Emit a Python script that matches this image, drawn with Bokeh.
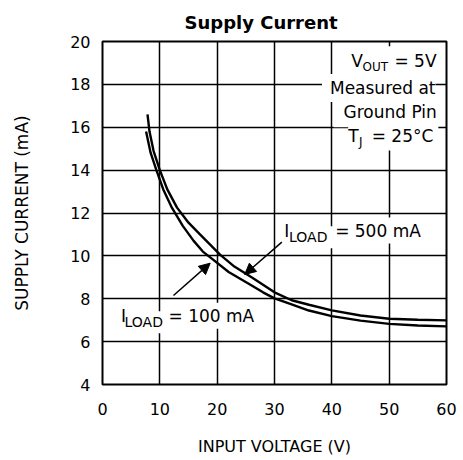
from bokeh.plotting import figure
from bokeh.models import Range1d, FixedTicker, Arrow, NormalHead
from bokeh.core.properties import value
from bokeh.embed import file_html
from bokeh.resources import INLINE

# ---- data ----
vin_500 = [7.85, 8.2, 8.9, 10.0, 11.3, 13.0, 15.0, 17.0, 20.5, 23.0, 26.0, 30.0, 33.0, 36.0, 40.0, 45.0, 50.0, 55.0, 60.0]
isup_500 = [16.6, 15.8, 14.9, 14.0, 13.1, 12.25, 11.55, 11.0, 10.06, 9.5, 9.0, 8.3, 7.93, 7.72, 7.46, 7.22, 7.07, 7.02, 6.99]

vin_100 = [7.6, 8.4, 9.4, 10.6, 12.1, 14.0, 15.9, 17.5, 19.4, 22.0, 25.5, 28.0, 30.0, 32.5, 36.0, 40.0, 45.0, 50.0, 55.0, 60.0]
isup_100 = [15.8, 14.8, 14.0, 13.1, 12.25, 11.4, 10.7, 10.2, 9.8, 9.25, 8.7, 8.3, 8.02, 7.78, 7.45, 7.19, 6.98, 6.83, 6.75, 6.71]

x_ticks = [0, 10, 20, 30, 40, 50, 60]
y_ticks = [4, 6, 8, 10, 12, 14, 16, 18, 20]

title_text = "Supply Current"
x_label = "INPUT VOLTAGE (V)"
y_label = "SUPPLY CURRENT (mA)"

FONT = "DejaVu Sans"

p = figure(width=460, height=459, title=title_text,
           x_range=Range1d(0, 60), y_range=Range1d(4, 20),
           output_backend="svg", toolbar_location=None,
           min_border_left=102, min_border_right=14,
           min_border_top=41, min_border_bottom=75)
p.background_fill_color = "white"
p.border_fill_color = "white"
p.outline_line_color = "black"
p.outline_line_width = 2

p.title.text_font = FONT
p.title.text_font_style = "bold"
p.title.text_font_size = "18px"
p.title.text_color = "black"
p.title.align = "left"
p.title.offset = 82
p.title.standoff = 18

p.xaxis.ticker = FixedTicker(ticks=x_ticks)
p.yaxis.ticker = FixedTicker(ticks=y_ticks)
p.xgrid.ticker = FixedTicker(ticks=x_ticks)
p.ygrid.ticker = FixedTicker(ticks=y_ticks)
for g in (p.xgrid[0], p.ygrid[0]):
    g.grid_line_color = "black"
    g.grid_line_width = 1.5
    g.grid_line_alpha = 1.0

for ax in (p.xaxis[0], p.yaxis[0]):
    ax.axis_line_color = None
    ax.major_tick_out = 0
    ax.major_tick_in = 0
    ax.minor_tick_out = 0
    ax.minor_tick_in = 0
    ax.major_label_text_font = FONT
    ax.major_label_text_font_size = "16px"
    ax.major_label_text_color = "black"
    ax.axis_label_text_font = FONT
    ax.axis_label_text_font_style = "normal"
    ax.axis_label_text_color = "black"

p.xaxis.axis_label = x_label
p.yaxis.axis_label = y_label
p.xaxis.major_label_standoff = 18
p.yaxis.major_label_standoff = 12
p.xaxis.axis_label_text_font_size = "16px"
p.yaxis.axis_label_text_font_size = "17px"
p.xaxis.axis_label_standoff = 19
p.yaxis.axis_label_standoff = 35

# curves
p.line(vin_500, isup_500, line_color="black", line_width=2.4)
p.line(vin_100, isup_100, line_color="black", line_width=2.4)

# annotation text pieces: (text, x, y, size, align, background padding)
pieces = [
    ("V", 43.4, 19.08, "17px", "left", 5),
    ("OUT", 45.35, 18.80, "12px", "left", 5),
    ("= 5V", 58.26, 19.08, "17px", "right", 5),
    ("Measured at", 58.08, 17.83, "17px", "right", 4),
    ("Ground Pin", 58.31, 16.70, "17px", "right", 5),
    ("T", 42.85, 15.61, "17px", "left", 5),
    ("J", 44.74, 15.32, "12px", "left", 7),
    ("= 25\u00b0C", 52.33, 15.61, "17px", "center", 5),
    ("I", 31.69, 11.18, "17px", "left", 3),
    ("LOAD", 32.53, 10.87, "14px", "left", 3),
    ("= 500 mA", 40.58, 11.18, "17px", "left", 3),
    ("I", 3.21, 7.21, "17px", "left", 3),
    ("LOAD", 3.84, 6.905, "14px", "left", 3),
    ("= 100 mA", 11.51, 7.21, "17px", "left", 3),
]

# first pass: white backgrounds only
for t, x, y, s, a, pad in pieces:
    p.text(x=[x], y=[y], text=[t], text_font=value(FONT), text_font_size=s,
           text_align=a, text_baseline="alphabetic", text_alpha=0,
           background_fill_color="white", padding=pad)
# second pass: the text
for t, x, y, s, a, pad in pieces:
    p.text(x=[x], y=[y], text=[t], text_font=value(FONT), text_font_size=s,
           text_align=a, text_baseline="alphabetic", text_color="black")

# arrows
p.add_layout(Arrow(x_start=12.38, y_start=8.15, x_end=18.78, y_end=9.66,
                   line_color="black", line_width=1.5,
                   end=NormalHead(size=11, fill_color="black", line_color="black")))
p.add_layout(Arrow(x_start=31.28, y_start=10.64, x_end=24.8, y_end=9.13,
                   line_color="black", line_width=1.5,
                   end=NormalHead(size=11, fill_color="black", line_color="black")))

open("out.html", "w").write(file_html(p, INLINE))
